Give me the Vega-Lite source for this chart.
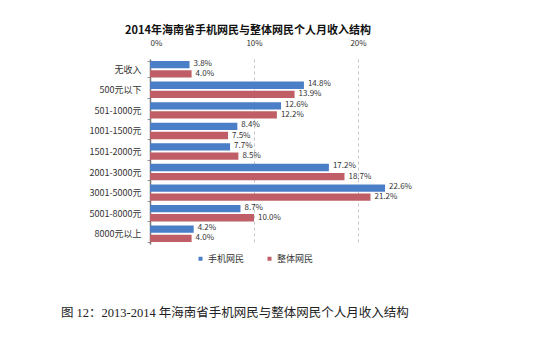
{
  "$schema": "https://vega.github.io/schema/vega-lite/v6.json",
  "background": "white",
  "padding": {"left": 60, "top": 25, "right": 5, "bottom": 5},
  "title": {
    "text": "图 12：2013-2014 年海南省手机网民与整体网民个人月收入结构",
    "orient": "bottom",
    "anchor": "start",
    "dx": -28,
    "offset": 43,
    "font": "Liberation Serif, Noto Sans CJK SC",
    "fontSize": 12.5,
    "fontWeight": "normal",
    "color": "#222222"
  },
  "config": {
    "view": {"stroke": null},
    "font": "Noto Sans CJK SC"
  },
  "vconcat": [
    {
      "title": {
        "text": "2014年海南省手机网民与整体网民个人月收入结构",
        "anchor": "middle",
        "dx": -32,
        "fontSize": 11,
        "fontWeight": "bold",
        "color": "#111111",
        "offset": 3
      },
      "width": 260,
      "height": 185,
      "data": {
        "values": [
          {"cat": "无收入", "series": "手机网民", "v": 0.038},
          {"cat": "无收入", "series": "整体网民", "v": 0.040},
          {"cat": "500元以下", "series": "手机网民", "v": 0.148},
          {"cat": "500元以下", "series": "整体网民", "v": 0.139},
          {"cat": "501-1000元", "series": "手机网民", "v": 0.126},
          {"cat": "501-1000元", "series": "整体网民", "v": 0.122},
          {"cat": "1001-1500元", "series": "手机网民", "v": 0.084},
          {"cat": "1001-1500元", "series": "整体网民", "v": 0.075},
          {"cat": "1501-2000元", "series": "手机网民", "v": 0.077},
          {"cat": "1501-2000元", "series": "整体网民", "v": 0.085},
          {"cat": "2001-3000元", "series": "手机网民", "v": 0.172},
          {"cat": "2001-3000元", "series": "整体网民", "v": 0.187},
          {"cat": "3001-5000元", "series": "手机网民", "v": 0.226},
          {"cat": "3001-5000元", "series": "整体网民", "v": 0.212},
          {"cat": "5001-8000元", "series": "手机网民", "v": 0.087},
          {"cat": "5001-8000元", "series": "整体网民", "v": 0.100},
          {"cat": "8000元以上", "series": "手机网民", "v": 0.042},
          {"cat": "8000元以上", "series": "整体网民", "v": 0.040}
        ]
      },
      "encoding": {
        "y": {
          "field": "cat",
          "type": "nominal",
          "sort": null,
          "scale": {"paddingInner": 0.2, "paddingOuter": 0.1},
          "axis": {
            "title": null,
            "labelFontSize": 9,
            "labelColor": "#333333",
            "labelPadding": 6,
            "domainColor": "#777777",
            "domainWidth": 1.5,
            "ticks": true,
            "tickBand": "extent",
            "tickSize": 3,
            "tickColor": "#999999",
            "grid": false
          }
        },
        "yOffset": {
          "field": "series",
          "type": "nominal",
          "sort": ["手机网民", "整体网民"],
          "scale": {"paddingInner": 0.2}
        },
        "x": {
          "field": "v",
          "type": "quantitative",
          "scale": {"domain": [0, 0.25]},
          "axis": {
            "orient": "top",
            "title": null,
            "format": ".0%",
            "values": [0, 0.1, 0.2],
            "labelFontSize": 8,
            "labelColor": "#333333",
            "labelPadding": 12,
            "domain": false,
            "ticks": false,
            "grid": true,
            "gridColor": "#c8c8c8",
            "gridDash": [3, 3]
          }
        }
      },
      "layer": [
        {
          "mark": {"type": "bar"},
          "encoding": {
            "color": {
              "field": "series",
              "type": "nominal",
              "sort": ["手机网民", "整体网民"],
              "scale": {"domain": ["手机网民", "整体网民"], "range": ["#4a7ec6", "#bf5e66"]},
              "legend": {
                "title": null,
                "orient": "none",
                "legendX": 46,
                "legendY": 195,
                "direction": "horizontal",
                "columns": 2,
                "columnPadding": 20,
                "symbolType": "square",
                "symbolSize": 16,
                "symbolStrokeWidth": 0,
                "labelFontSize": 9,
                "labelColor": "#333333",
                "labelOffset": 3
              }
            }
          }
        },
        {
          "transform": [{"filter": "datum.series === '手机网民'"}],
          "mark": {"type": "text", "align": "left", "dx": 4, "dy": -1, "fontSize": 8, "color": "#333333"},
          "encoding": {
            "text": {"field": "v", "type": "quantitative", "format": ".1%"}
          }
        },
        {
          "transform": [{"filter": "datum.series === '整体网民'"}],
          "mark": {"type": "text", "align": "left", "dx": 4, "dy": 0, "fontSize": 8, "color": "#333333"},
          "encoding": {
            "text": {"field": "v", "type": "quantitative", "format": ".1%"}
          }
        }
      ]
    }
  ]
}
